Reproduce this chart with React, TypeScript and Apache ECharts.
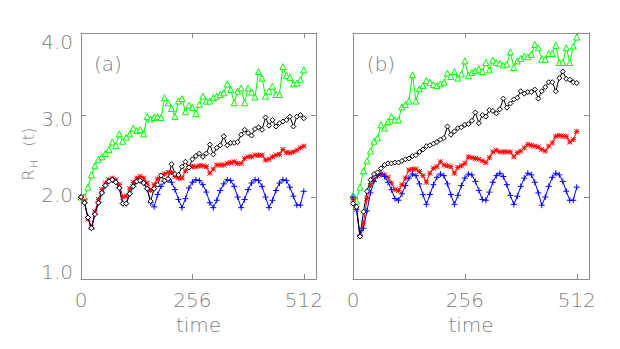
import React, { useEffect, useRef } from "react";
import * as echarts from "echarts";

const TIME = [
  0, 8, 16, 24, 32, 40, 48, 56, 64, 72, 80, 88, 96, 104, 112, 120, 128, 136, 144, 152, 160, 168, 176, 184, 192, 200,
  208, 216, 224, 232, 240, 248, 256, 264, 272, 280, 288, 296, 304, 312, 320, 328, 336, 344, 352, 360, 368, 376, 384,
  392, 400, 408, 416, 424, 432, 440, 448, 456, 464, 472, 480, 488, 496, 504, 512,
];

const X_TICKS = [0, 256, 512];
const Y_TICKS = [1.0, 2.0, 3.0, 4.0];

// Panel (a)
const GREEN_A = [
  2.0, 2.0, 2.12, 2.27, 2.38, 2.46, 2.49, 2.53, 2.58, 2.67, 2.63, 2.77, 2.68, 2.73, 2.77, 2.84, 2.81, 2.82, 2.77, 2.98,
  2.95, 2.97, 2.98, 2.97, 3.21, 3.15, 3.08, 2.98, 3.17, 3.2, 3.04, 3.12, 3.09, 3.02, 3.13, 3.23, 3.17, 3.17, 3.21, 3.23,
  3.25, 3.27, 3.38, 3.31, 3.15, 3.29, 3.33, 3.15, 3.33, 3.28, 3.22, 3.53, 3.45, 3.23, 3.29, 3.35, 3.25, 3.25, 3.59, 3.48,
  3.46, 3.38, 3.39, 3.43, 3.55,
];
const BLACK_A = [
  2.0, 1.93, 1.75, 1.62, 1.79, 1.93, 2.05, 2.14, 2.19, 2.21, 2.18, 2.11, 1.92, 1.92, 2.04, 2.13, 2.19, 2.2, 2.17, 2.1,
  1.95, 2.1, 2.15, 2.26, 2.2, 2.22, 2.4, 2.28, 2.27, 2.37, 2.43, 2.36, 2.46, 2.5, 2.53, 2.49, 2.53, 2.64, 2.52, 2.6, 2.63,
  2.74, 2.63, 2.66, 2.66, 2.67, 2.76, 2.82, 2.78, 2.75, 2.83, 2.85, 2.82, 2.97, 2.87, 2.94, 2.86, 2.9, 2.92, 2.94, 2.98,
  2.86, 2.98, 3.0, 2.96,
];
const RED_A = [
  2.0, 1.95, 1.73, 1.63, 1.82, 1.97, 2.09, 2.17, 2.21, 2.23, 2.21, 2.15, 2.0, 2.01, 2.1, 2.18, 2.23, 2.25, 2.23, 2.17,
  2.08, 2.15, 2.22, 2.26, 2.28, 2.3, 2.3, 2.25, 2.23, 2.23, 2.32, 2.37, 2.37, 2.37, 2.38, 2.38, 2.37, 2.29, 2.34, 2.39,
  2.39, 2.39, 2.41, 2.42, 2.43, 2.41, 2.41, 2.47, 2.49, 2.49, 2.51, 2.51, 2.51, 2.45, 2.46, 2.49, 2.51, 2.52, 2.58, 2.54,
  2.54, 2.55, 2.57, 2.6, 2.62,
];
const BLUE_A = [
  2.0, 1.93, 1.75, 1.62, 1.79, 1.93, 2.05, 2.14, 2.19, 2.21, 2.18, 2.11, 1.92, 1.92, 2.04, 2.13, 2.19, 2.2, 2.17, 2.1,
  1.93, 1.88, 2.03, 2.13, 2.19, 2.21, 2.18, 2.09, 1.97, 1.87, 1.98, 2.11, 2.18, 2.21, 2.2, 2.15, 2.06, 1.93, 1.87, 1.96,
  2.08, 2.16, 2.21, 2.2, 2.13, 2.0, 1.87, 1.97, 2.09, 2.17, 2.21, 2.2, 2.13, 2.0, 1.87, 1.96, 2.08, 2.17, 2.21, 2.2, 2.12,
  2.01, 1.9, 1.9, 2.07,
];

// Panel (b)
const GREEN_B = [
  2.02, 1.95, 2.12, 2.32, 2.44, 2.56, 2.68, 2.72, 2.88, 2.84, 2.92, 2.98, 2.94, 2.94, 3.1, 3.13, 3.17, 3.49, 3.17, 3.32,
  3.36, 3.42, 3.4, 3.37, 3.36, 3.38, 3.4, 3.51, 3.47, 3.53, 3.45, 3.5, 3.66, 3.48, 3.52, 3.54, 3.56, 3.53, 3.64, 3.55,
  3.67, 3.64, 3.63, 3.61, 3.62, 3.77, 3.58, 3.66, 3.69, 3.72, 3.71, 3.74, 3.86, 3.82, 3.68, 3.68, 3.75, 3.75, 3.85, 3.64,
  3.64, 3.82, 3.64, 3.84, 3.95,
];
const BLACK_B = [
  1.92, 1.88, 1.52, 1.82, 2.07, 2.21, 2.28, 2.3, 2.35, 2.39, 2.41, 2.41, 2.42, 2.42, 2.44, 2.46, 2.47, 2.5, 2.51, 2.55,
  2.58, 2.62, 2.63, 2.65, 2.67, 2.7, 2.72, 2.86, 2.76, 2.8, 2.84, 2.85, 2.88, 2.89, 2.93, 3.03, 2.9, 3.0, 2.98, 3.06,
  3.05, 3.02, 3.07, 3.2, 3.09, 3.14, 3.19, 3.21, 3.29, 3.26, 3.28, 3.28, 3.31, 3.2, 3.29, 3.34, 3.4, 3.4, 3.29, 3.45,
  3.53, 3.44, 3.43, 3.4, 3.39,
];
const RED_B = [
  1.97, 1.85, 1.52, 1.68, 1.98, 2.14, 2.22, 2.26, 2.28, 2.27, 2.24, 2.17, 2.09, 2.08, 2.15, 2.23, 2.33, 2.34, 2.34, 2.31,
  2.26, 2.18, 2.29, 2.35, 2.37, 2.43, 2.39, 2.38, 2.37, 2.29, 2.36, 2.38, 2.41, 2.49, 2.48, 2.47, 2.46, 2.44, 2.42, 2.48,
  2.55, 2.57, 2.55, 2.55, 2.55, 2.55, 2.49, 2.54, 2.56, 2.6, 2.64, 2.63, 2.62, 2.61, 2.58, 2.56, 2.62, 2.66, 2.74, 2.75,
  2.74, 2.74, 2.67, 2.7, 2.8,
];
const BLUE_B = [
  2.0, 1.85, 1.53, 1.62, 1.83, 2.05, 2.19, 2.26, 2.28, 2.25, 2.18, 2.09, 1.98, 1.96, 2.04, 2.14, 2.23, 2.28, 2.26, 2.16,
  2.03, 1.91, 2.03, 2.15, 2.24, 2.28, 2.26, 2.16, 2.03, 1.91, 2.02, 2.14, 2.23, 2.28, 2.27, 2.19, 2.08, 1.97, 1.96, 2.06,
  2.18, 2.26, 2.29, 2.25, 2.15, 2.02, 1.91, 2.01, 2.13, 2.23, 2.29, 2.27, 2.18, 2.05, 1.9, 2.0, 2.13, 2.24, 2.29, 2.27,
  2.19, 2.07, 1.96, 1.96, 2.12,
];

const FRAME = "#8a8a8a";
const TEXT = "#808080";
const FONT = "DejaVu Sans";

const ASTERISK = "path://M0,0L10,10M10,0L0,10M5,0L5,10M0,5L10,5";
const PLUS = "path://M5,0L5,10M0,5L10,5";
const TRIANGLE = "path://M5,0L10,9L0,9Z";
const DIAMOND = "path://M5,0L10,5L5,10L0,5Z";

function pairs(ys: number[]) {
  return ys.map((y, i) => [TIME[i], y]);
}

function makeSeries(xi: number, yi: number, g: number[], r: number[], bl: number[], k: number[]) {
  const base = { type: "line", xAxisIndex: xi, yAxisIndex: yi, silent: true, z: 3 };
  return [
    {
      ...base,
      data: pairs(g),
      symbol: TRIANGLE,
      symbolSize: 6,
      lineStyle: { color: "#00ff00", width: 1 },
      itemStyle: { color: "#ffffff", borderColor: "#00ff00", borderWidth: 1 },
    },
    {
      ...base,
      data: pairs(r),
      symbol: ASTERISK,
      symbolSize: 5,
      lineStyle: { color: "#ff0000", width: 1 },
      itemStyle: { color: "transparent", borderColor: "#ff0000", borderWidth: 1 },
    },
    {
      ...base,
      data: pairs(bl),
      symbol: PLUS,
      symbolSize: 6,
      lineStyle: { color: "#0000ff", width: 1 },
      itemStyle: { color: "transparent", borderColor: "#0000ff", borderWidth: 1 },
    },
    {
      ...base,
      data: pairs(k),
      symbol: DIAMOND,
      symbolSize: 5,
      lineStyle: { color: "#000000", width: 1 },
      itemStyle: { color: "#ffffff", borderColor: "#000000", borderWidth: 1 },
    },
  ];
}

function xAxes(grid: number) {
  const common = {
    type: "value",
    gridIndex: grid,
    min: 0,
    max: 540,
    interval: 256,
    splitLine: { show: false },
    axisLine: { show: true, onZero: false, lineStyle: { color: FRAME, width: 1 } },
    axisTick: { show: true, inside: true, length: 5, lineStyle: { color: FRAME, width: 1 } },
  };
  return [
    {
      ...common,
      position: "bottom",
      name: "time",
      nameLocation: "middle",
      nameGap: 36,
      nameTextStyle: { color: TEXT, fontSize: 20, fontFamily: FONT, fontWeight: 200 },
      axisLabel: {
        color: TEXT,
        fontSize: 20,
        fontFamily: FONT,
        fontWeight: 200,
        margin: 11,
        formatter: (v: number) => (X_TICKS.indexOf(v) >= 0 ? String(v) : ""),
      },
    },
    { ...common, position: "top", axisLabel: { show: false } },
  ];
}

const Y_SHIFT: Record<string, number[]> = {
  k4: [17, 0, 0, 0],
  k3: [7, 0, 0, 0],
  k2: [0, 0, 4, 0],
  k1: [0, 0, 14, 0],
};

function yAxes(grid: number, labels: boolean) {
  const common = {
    type: "value",
    gridIndex: grid,
    min: 1,
    max: 4,
    interval: 1,
    splitLine: { show: false },
    axisLine: { show: true, onZero: false, lineStyle: { color: FRAME, width: 1 } },
    axisTick: { show: true, inside: true, length: 5, lineStyle: { color: FRAME, width: 1 } },
  };
  const rich: Record<string, any> = {};
  Object.keys(Y_SHIFT).forEach((k) => {
    rich[k] = { color: TEXT, fontSize: 20, fontFamily: FONT, fontWeight: 200, padding: Y_SHIFT[k] };
  });
  return [
    {
      ...common,
      position: "left",
      axisLabel: {
        show: labels,
        margin: 8,
        color: TEXT,
        fontSize: 20,
        fontFamily: FONT,
        formatter: (v: number) => (Y_TICKS.indexOf(v) >= 0 ? `{k${Math.round(v)}|${v.toFixed(1)}}` : ""),
        rich,
      },
    },
    { ...common, position: "right", axisLabel: { show: false } },
  ];
}

export default function App() {
  const ref = useRef<HTMLDivElement>(null);
  useEffect(() => {
    if (!ref.current) return;
    const chart = echarts.init(ref.current, null, { renderer: "svg" });
    const textStyle = { fill: TEXT, fontFamily: FONT, fontWeight: 200 };
    chart.setOption({
      animation: false,
      backgroundColor: "#ffffff",
      grid: [
        { left: 81, top: 33, width: 235, height: 246 },
        { left: 353, top: 33, width: 236, height: 246 },
      ],
      xAxis: [...xAxes(0), ...xAxes(1)],
      yAxis: [...yAxes(0, true), ...yAxes(1, false)],
      series: [...makeSeries(0, 0, GREEN_A, RED_A, BLUE_A, BLACK_A), ...makeSeries(2, 2, GREEN_B, RED_B, BLUE_B, BLACK_B)],
      graphic: [
        {
          type: "text",
          x: 108,
          y: 64,
          style: { ...textStyle, text: "(a)", fontSize: 20, align: "center", verticalAlign: "middle" },
        },
        {
          type: "text",
          x: 381,
          y: 64,
          style: { ...textStyle, text: "(b)", fontSize: 20, align: "center", verticalAlign: "middle" },
        },
        {
          type: "group",
          x: 28,
          y: 152,
          rotation: Math.PI / 2,
          children: [
            {
              type: "text",
              x: -23,
              y: 0,
              style: { ...textStyle, text: "R", fontSize: 16, align: "center", verticalAlign: "middle" },
            },
            {
              type: "text",
              x: -12,
              y: 6,
              style: { ...textStyle, text: "H", fontSize: 11, align: "center", verticalAlign: "middle" },
            },
            {
              type: "text",
              x: 15,
              y: 0,
              style: { ...textStyle, text: "(t)", fontSize: 16, align: "center", verticalAlign: "middle" },
            },
          ],
        },
      ],
    });
    return () => chart.dispose();
  }, []);
  return (
    <div
      ref={ref}
      style={{ position: "absolute", left: 0, top: 0, width: 620, height: 349, background: "#fff" }}
    />
  );
}
